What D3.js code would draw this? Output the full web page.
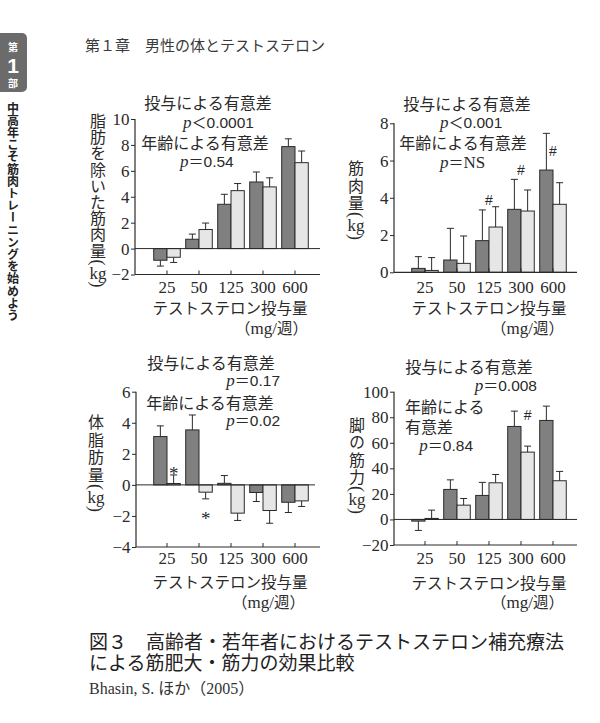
<!DOCTYPE html>
<html>
<head>
<meta charset="utf-8">
<script src="https://cdn.jsdelivr.net/npm/d3@7"></script>
<style>
  body { margin: 0; background: #fff; }
  svg { display: block; }
</style>
</head>
<body>
<div id="vis"></div>
<script>
const FRAME_WIDTH = 600;
const FRAME_HEIGHT = 723;

const JP = "'Noto Sans CJK JP', sans-serif";
const SERIF = "'Liberation Serif', 'Noto Sans CJK JP', serif";
const SANS = "'Liberation Sans', 'Noto Sans CJK JP', sans-serif";
const DARK = "#808080";
const LIGHT = "#e6e6e6";
const INK = "#2a2a2a";

// doses (mg/week)
const DOSES = ["25", "50", "125", "300", "600"];

// lean mass without fat (kg)
const LEAN_DARK = [-0.9, 0.72, 3.42, 5.14, 7.87];
const LEAN_DARK_ERR = [0.45, 0.4, 0.77, 0.77, 0.6];
const LEAN_LIGHT = [-0.67, 1.47, 4.47, 4.76, 6.63];
const LEAN_LIGHT_ERR = [0.4, 0.5, 0.55, 0.7, 0.9];

// muscle mass (kg)
const MUSCLE_DARK = [0.21, 0.66, 1.7, 3.38, 5.49];
const MUSCLE_DARK_ERR = [0.63, 1.7, 1.65, 1.61, 1.97];
const MUSCLE_LIGHT = [0.1, 0.48, 2.43, 3.29, 3.65];
const MUSCLE_LIGHT_ERR = [0.69, 1.47, 1.09, 1.13, 1.16];
const MUSCLE_MARKS = [
  {dose: "125", value: 3.87, mark: "#", series: null},
  {dose: "300", value: 5.48, mark: "#", series: null},
  {dose: "600", value: 6.5, mark: "#", series: null}
];

// fat mass (kg)
const FAT_DARK = [3.11, 3.54, 0.1, -0.49, -1.12];
const FAT_DARK_ERR = [0.69, 0.96, 0.5, 0.58, 0.66];
const FAT_LIGHT = [0.09, -0.47, -1.82, -1.65, -1.03];
const FAT_LIGHT_ERR = [0.55, 0.43, 0.47, 0.82, 0.36];
const FAT_MARKS = [
  {dose: "25", value: 1.07, mark: "*", series: "light"},
  {dose: "50", value: -1.82, mark: "*", series: "light"}
];

// leg strength (kg)
const LEG_DARK = [-1.3, 23.5, 18.8, 72.8, 77.5];
const LEG_DARK_ERR = [7.3, 7.5, 10.2, 12, 11.2];
const LEG_LIGHT = [0.8, 11.2, 28.7, 52.7, 30.3];
const LEG_LIGHT_ERR = [6.5, 5.2, 6.5, 4.7, 7.3];
const LEG_MARKS = [
  {dose: "300", value: 81.4, mark: "#", series: "light"}
];

const svg = d3.select("#vis")
  .append("svg")
    .attr("width", FRAME_WIDTH)
    .attr("height", FRAME_HEIGHT);

svg.append("rect")
  .attr("width", FRAME_WIDTH)
  .attr("height", FRAME_HEIGHT)
  .attr("fill", "#fff");

// ---- page header and side tab
svg.append("text")
  .attr("x", 85).attr("y", 51)
  .attr("font-family", JP).attr("font-size", 15)
  .attr("fill", "#3a3a3a")
  .text("第１章　男性の体とテストステロン");

svg.append("rect")
  .attr("x", -6).attr("y", 33)
  .attr("width", 33).attr("height", 59)
  .attr("rx", 5)
  .attr("fill", "#6b6b6b");

svg.append("text")
  .attr("x", 13).attr("y", 51)
  .attr("text-anchor", "middle")
  .attr("font-family", JP).attr("font-size", 10).attr("font-weight", 700)
  .attr("fill", "#fff").text("第");
svg.append("text")
  .attr("x", 13).attr("y", 73)
  .attr("text-anchor", "middle")
  .attr("font-family", SANS).attr("font-size", 21).attr("font-weight", 700)
  .attr("fill", "#fff").text("1");
svg.append("text")
  .attr("x", 13).attr("y", 87)
  .attr("text-anchor", "middle")
  .attr("font-family", JP).attr("font-size", 10).attr("font-weight", 700)
  .attr("fill", "#fff").text("部");

svg.append("text")
  .attr("x", 13).attr("y", 102)
  .attr("font-family", JP).attr("font-size", 12).attr("font-weight", 700)
  .attr("fill", "#222")
  .style("writing-mode", "vertical-rl")
  .attr("letter-spacing", 0.2)
  .text("中高年こそ筋肉トレーニングを始めよう");

// ---- caption
svg.append("text")
  .attr("x", 89).attr("y", 649)
  .attr("font-family", JP).attr("font-size", 19)
  .attr("fill", "#222")
  .text("図３　高齢者・若年者におけるテストステロン補充療法");
svg.append("text")
  .attr("x", 89).attr("y", 670)
  .attr("font-family", JP).attr("font-size", 19)
  .attr("fill", "#222")
  .text("による筋肥大・筋力の効果比較");
svg.append("text")
  .attr("x", 89).attr("y", 694)
  .attr("font-family", SERIF).attr("font-size", 16)
  .attr("fill", "#333")
  .text("Bhasin, S. ほか（2005）");

// p-value line: italic p, full width sign, number
function pLine(g, a) {
  const t = g.append("text")
    .attr("x", a.x).attr("y", a.y)
    .attr("text-anchor", a.anchor || "start")
    .attr("fill", INK);
  t.append("tspan").attr("font-family", SERIF).attr("font-style", "italic")
    .attr("font-size", 17).text("p");
  t.append("tspan").attr("font-family", JP).attr("font-size", 15).text(a.sign);
  t.append("tspan").attr("font-family", a.serif ? SERIF : SANS)
    .attr("font-size", a.serif ? 17 : 15.5).text(a.num);
}

// vertical y label, with (kg) set as in tategaki
function yLabel(g, lab) {
  const n = Array.from(lab.text).length;
  g.append("text")
    .attr("x", lab.x).attr("y", lab.top)
    .attr("font-family", JP).attr("font-size", 16)
    .attr("letter-spacing", lab.step - 16)
    .style("writing-mode", "vertical-rl")
    .attr("fill", INK)
    .text(lab.text);
  const base = lab.top + 14 + (n - 1) * lab.step;
  const paren = (ch, cy) => g.append("text")
    .attr("x", lab.x).attr("y", cy)
    .attr("text-anchor", "middle")
    .attr("dominant-baseline", "central")
    .attr("transform", "rotate(90," + lab.x + "," + cy + ")")
    .attr("font-family", SERIF).attr("font-size", 18)
    .attr("fill", INK)
    .text(ch);
  paren("(", base + 6);
  g.append("text").attr("x", lab.x).attr("y", base + 22)
    .attr("text-anchor", "middle").attr("font-family", SERIF).attr("font-size", 17)
    .attr("fill", INK).text("kg");
  paren(")", base + 28);
}

function drawPanel(p) {
  const g = svg.append("g");

  const X_SCALE = d3.scaleBand()
    .domain(DOSES)
    .range(p.xRange)
    .paddingInner(0.17)
    .paddingOuter(0.085);
  const SUB = d3.scaleBand()
    .domain(["dark", "light"])
    .range([0, X_SCALE.bandwidth()]);
  const Y_SCALE = d3.scaleLinear()
    .domain(p.yDomain)
    .range(p.yRange);

  const rows = [];
  DOSES.forEach((d, i) => {
    rows.push({dose: d, series: "dark", value: p.dark[i], err: p.darkErr[i]});
    rows.push({dose: d, series: "light", value: p.light[i], err: p.lightErr[i]});
  });

  const cx = (d) => X_SCALE(d.dose) + SUB(d.series) + SUB.bandwidth() / 2;
  const tipY = (d) => Y_SCALE(d.value >= 0 ? d.value + d.err : d.value - d.err);

  // error bars first so the bar outline sits over the stem
  g.selectAll(".err")
    .data(rows)
    .enter()
    .append("line")
      .attr("x1", cx).attr("x2", cx)
      .attr("y1", (d) => Y_SCALE(d.value))
      .attr("y2", tipY)
      .attr("stroke", INK).attr("stroke-width", 1);

  g.selectAll(".cap")
    .data(rows)
    .enter()
    .append("line")
      .attr("x1", (d) => cx(d) - 3.5).attr("x2", (d) => cx(d) + 3.5)
      .attr("y1", tipY).attr("y2", tipY)
      .attr("stroke", INK).attr("stroke-width", 1);

  g.selectAll(".bar")
    .data(rows)
    .enter()
    .append("rect")
      .attr("x", (d) => X_SCALE(d.dose) + SUB(d.series))
      .attr("y", (d) => Math.min(Y_SCALE(d.value), Y_SCALE(0)))
      .attr("width", SUB.bandwidth())
      .attr("height", (d) => Math.abs(Y_SCALE(d.value) - Y_SCALE(0)))
      .attr("fill", (d) => d.series === "dark" ? DARK : LIGHT)
      .attr("stroke", INK).attr("stroke-width", 1);

  // y axis, ticks pointing out
  const yAxis = g.append("g")
    .attr("transform", "translate(" + p.axisX[0] + ",0)")
    .call(d3.axisLeft(Y_SCALE)
      .tickValues(p.yTicks)
      .tickSizeInner(4)
      .tickSizeOuter(0)
      .tickPadding(1.5)
      .tickFormat(d3.format("d")));
  yAxis.select(".domain").remove();
  yAxis.attr("font-family", SERIF).attr("font-size", 17);
  yAxis.selectAll("line").attr("stroke", INK);
  yAxis.selectAll("text").attr("fill", INK);

  g.append("line")
    .attr("x1", p.axisX[0]).attr("x2", p.axisX[0])
    .attr("y1", Y_SCALE(p.yDomain[0]))
    .attr("y2", Y_SCALE(p.yTicks[p.yTicks.length - 1]))
    .attr("stroke", INK).attr("stroke-width", 1.2);

  // x axis along the bottom of the domain, ticks pointing in
  const xAxis = g.append("g")
    .attr("transform", "translate(0," + Y_SCALE(p.yDomain[0]) + ")")
    .call(d3.axisBottom(X_SCALE)
      .tickSizeInner(-4)
      .tickSizeOuter(0)
      .tickPadding(p.xPad));
  xAxis.select(".domain").remove();
  xAxis.attr("font-family", SERIF).attr("font-size", 17);
  xAxis.selectAll("line").attr("stroke", INK);
  xAxis.selectAll("text").attr("fill", INK);

  g.append("line")
    .attr("x1", p.axisX[0]).attr("x2", p.axisX[1])
    .attr("y1", Y_SCALE(p.yDomain[0])).attr("y2", Y_SCALE(p.yDomain[0]))
    .attr("stroke", INK).attr("stroke-width", 1.2);

  if (p.yDomain[0] < 0) {
    g.append("line")
      .attr("x1", p.axisX[0]).attr("x2", p.zeroEnd)
      .attr("y1", Y_SCALE(0)).attr("y2", Y_SCALE(0))
      .attr("stroke", INK).attr("stroke-width", 1);
  }

  // significance marks
  g.selectAll(".mark")
    .data(p.marks)
    .enter()
    .append("text")
      .attr("x", (d) => d.series
        ? X_SCALE(d.dose) + SUB(d.series) + SUB.bandwidth() / 2
        : X_SCALE(d.dose) + X_SCALE.bandwidth() / 2)
      .attr("y", (d) => Y_SCALE(d.value))
      .attr("dy", (d) => d.mark === "*" ? "0.6em" : "0.35em")
      .attr("text-anchor", "middle")
      .attr("font-family", d => d.mark === "*" ? SERIF : SANS)
      .attr("font-size", (d) => d.mark === "*" ? 19 : 14)
      .attr("fill", INK)
      .text((d) => d.mark);

  // annotations
  p.notes.forEach((n) => {
    if (n.sign) {
      pLine(g, n);
    } else {
      g.append("text")
        .attr("x", n.x).attr("y", n.y)
        .attr("text-anchor", n.anchor || "middle")
        .attr("font-family", JP).attr("font-size", 16)
        .attr("fill", INK)
        .text(n.text);
    }
  });

  yLabel(g, p.yLab);

  // x title
  g.append("text")
    .attr("x", p.title[0]).attr("y", p.title[1])
    .attr("text-anchor", "middle")
    .attr("font-family", JP).attr("font-size", 15.5)
    .attr("fill", INK)
    .text("テストステロン投与量");
  const unit = g.append("text")
    .attr("x", p.unit[0]).attr("y", p.unit[1])
    .attr("text-anchor", "end")
    .attr("fill", INK);
  unit.append("tspan").attr("font-family", JP).attr("font-size", 15.5).text("（");
  unit.append("tspan").attr("font-family", SERIF).attr("font-size", 17).text("mg/");
  unit.append("tspan").attr("font-family", JP).attr("font-size", 15.5).text("週）");
}

drawPanel({
  dark: LEAN_DARK, darkErr: LEAN_DARK_ERR, light: LEAN_LIGHT, lightErr: LEAN_LIGHT_ERR,
  marks: [],
  xRange: [151, 311], axisX: [135, 320], zeroEnd: 320, xPad: 6,
  yDomain: [-2, 10], yRange: [274.5, 119], yTicks: [-2, 0, 2, 4, 6, 8, 10],
  yLab: {text: "脂肪を除いた筋肉量", x: 98, top: 113, step: 16.2},
  title: [230, 314], unit: [308, 334],
  notes: [
    {text: "投与による有意差", x: 208, y: 109},
    {sign: "＜", num: "0.0001", x: 183, y: 128},
    {text: "年齢による有意差", x: 205, y: 149},
    {sign: "＝", num: "0.54", x: 180, y: 167}
  ]
});

drawPanel({
  dark: MUSCLE_DARK, darkErr: MUSCLE_DARK_ERR, light: MUSCLE_LIGHT, lightErr: MUSCLE_LIGHT_ERR,
  marks: MUSCLE_MARKS,
  xRange: [409, 569], axisX: [394, 577], zeroEnd: 577, xPad: 8.5,
  yDomain: [0, 8], yRange: [272.3, 123.3], yTicks: [0, 2, 4, 6, 8],
  yLab: {text: "筋肉量", x: 356, top: 160, step: 17.5},
  title: [489, 314], unit: [564, 334],
  notes: [
    {text: "投与による有意差", x: 467, y: 110},
    {sign: "＜", num: "0.001", x: 440, y: 128},
    {text: "年齢による有意差", x: 463, y: 149},
    {sign: "＝", num: "NS", serif: true, x: 440, y: 168}
  ]
});

drawPanel({
  dark: FAT_DARK, darkErr: FAT_DARK_ERR, light: FAT_LIGHT, lightErr: FAT_LIGHT_ERR,
  marks: FAT_MARKS,
  xRange: [151, 311], axisX: [136, 320], zeroEnd: 315, xPad: 5,
  yDomain: [-4, 6], yRange: [547, 391.7], yTicks: [-4, -2, 0, 2, 4, 6],
  yLab: {text: "体脂肪量", x: 96, top: 414, step: 17.7},
  title: [230, 588], unit: [305, 608],
  notes: [
    {text: "投与による有意差", x: 211, y: 369},
    {sign: "＝", num: "0.17", x: 280, y: 386, anchor: "end"},
    {text: "年齢による有意差", x: 210, y: 409},
    {sign: "＝", num: "0.02", x: 280, y: 426, anchor: "end"}
  ]
});

drawPanel({
  dark: LEG_DARK, darkErr: LEG_DARK_ERR, light: LEG_LIGHT, lightErr: LEG_LIGHT_ERR,
  marks: LEG_MARKS,
  xRange: [409, 569], axisX: [394, 577], zeroEnd: 577, xPad: 7,
  yDomain: [-20, 100], yRange: [545, 391.7], yTicks: [-20, 0, 20, 40, 60, 80, 100],
  yLab: {text: "脚の筋力", x: 357, top: 417, step: 17.3},
  title: [489, 589], unit: [564, 608],
  notes: [
    {text: "投与による有意差", x: 469, y: 373},
    {sign: "＝", num: "0.008", x: 537, y: 391, anchor: "end"},
    {text: "年齢による", x: 405, y: 413, anchor: "start"},
    {text: "有意差", x: 405, y: 433, anchor: "start"},
    {sign: "＝", num: "0.84", x: 473, y: 451, anchor: "end"}
  ]
});
</script>
</body>
</html>
